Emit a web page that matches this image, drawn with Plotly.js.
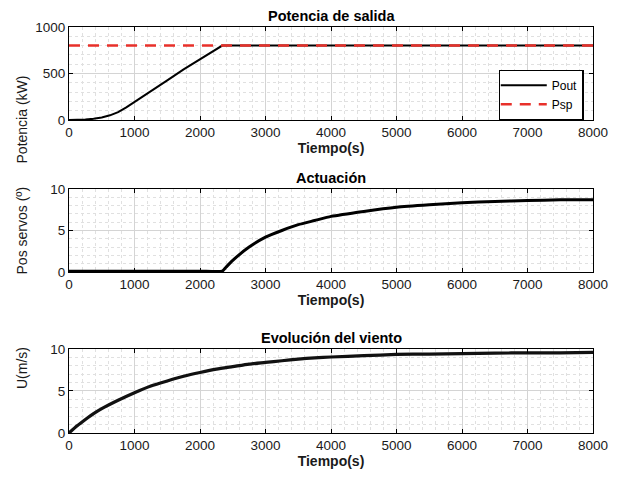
<!DOCTYPE html>
<html><head><meta charset="utf-8">
<script src="https://cdn.plot.ly/plotly-3.0.1.min.js"></script>
<style>html,body{margin:0;padding:0;background:#fff}#c{width:622px;height:477px}</style>
</head><body><div id="c"></div>
<script>
// Potencia de salida
const tPow = [0,125,250,375,500,625,750,875,1000,1125,1250,1500,1750,2000,2250,2340,3000,4000,5000,6000,7000,8000];
const pout = [0,1,4,12,26,50,85,135,192,248,305,425,545,655,760,800,800,800,800,800,800,800];
const tPsp = [0,8000];
const psp = [800,800];
// Actuación
const tServo = [0,1000,2000,2340,2400,2500,2750,3000,3250,3500,3750,4000,4500,5000,5500,6000,6500,7000,7500,8000];
const servo = [0.1,0.1,0.1,0.1,0.6,1.4,3.0,4.2,5.0,5.7,6.2,6.7,7.3,7.8,8.1,8.35,8.5,8.6,8.7,8.7];
// Evolución del viento
const tWind = [0,125,250,375,500,750,1000,1250,1500,1750,2000,2250,2500,2750,3000,3250,3500,3750,4000,4500,5000,5500,6000,6500,7000,7500,8000];
const wind = [0,0.85,1.6,2.3,2.9,3.9,4.8,5.6,6.2,6.75,7.2,7.6,7.9,8.2,8.4,8.6,8.8,8.95,9.05,9.2,9.35,9.4,9.45,9.5,9.55,9.55,9.6];

const titles = ["Potencia de salida","Actuación","Evolución del viento"];
const yTitles = ["Potencia (kW)","Pos servos (º)","U(m/s)"];
const xTitle = "Tiempo(s)";
const xTicks = [0,1000,2000,3000,4000,5000,6000,7000,8000];

const F = "Liberation Sans, Arial, sans-serif";
const TXT = "#1a1a1a";
const traces = [
  {x:tPow,y:pout,name:"Pout",mode:"lines",line:{color:"#000",width:2},xaxis:"x",yaxis:"y"},
  {x:tPsp,y:psp,name:"Psp",mode:"lines",line:{color:"#e8302a",width:2.5,dash:"11px,8px"},xaxis:"x",yaxis:"y"},
  {x:tServo,y:servo,name:"servo",mode:"lines",line:{color:"#000",width:3,shape:"spline",smoothing:0.5},xaxis:"x2",yaxis:"y2",showlegend:false},
  {x:tWind,y:wind,name:"wind",mode:"lines",line:{color:"#111",width:3.2,shape:"spline",smoothing:0.6},xaxis:"x3",yaxis:"y3",showlegend:false}
];

function xa(anchor){
  return {domain:[0,1],anchor:anchor,range:[0,8000],tickvals:xTicks,ticktext:xTicks.map(String),
    ticks:"inside",ticklen:4,tickcolor:"#000",showline:true,linecolor:"#000",linewidth:1,mirror:"allticks",
    showgrid:true,gridcolor:"#d4d4d4",gridwidth:1,zeroline:false,
    minor:{dtick:200,tick0:0,showgrid:true,gridcolor:"#e0e0e0",griddash:"dot",ticks:""},
    title:{text:xTitle,font:{family:F,size:14,color:TXT,weight:"bold"},standoff:3},
    tickfont:{family:F,size:13.5,color:TXT}};
}
function ya(anchor,dom,range,tv,mdt){
  return {domain:dom,anchor:anchor,range:range,tickvals:tv,ticks:"inside",ticklen:4,tickcolor:"#000",
    showline:true,linecolor:"#000",linewidth:1,mirror:"allticks",showgrid:true,gridcolor:"#d4d4d4",zeroline:false,
    minor:{dtick:mdt,tick0:0,showgrid:true,gridcolor:"#e0e0e0",griddash:"dot",ticks:""},
    tickfont:{family:F,size:13.5,color:TXT}};
}
const doms = [[0.771,1],[0.3966,0.601],[0,0.2069]];
const layout = {
  width:622,height:477,margin:{l:69,r:29,t:27,b:44},paper_bgcolor:"#fff",plot_bgcolor:"#fff",
  font:{family:F,color:TXT},
  xaxis:xa("y"),xaxis2:xa("y2"),xaxis3:xa("y3"),
  yaxis:ya("x",doms[0],[0,1000],[0,500,1000],100),
  yaxis2:ya("x2",doms[1],[0,10],[0,5,10],1),
  yaxis3:ya("x3",doms[2],[0,10],[0,5,10],1),
  legend:{x:0.982,xanchor:"right",y:0.895,yanchor:"top",bordercolor:"#000",borderwidth:1.2,bgcolor:"#fff",
    font:{family:F,size:12,color:"#000"},tracegroupgap:0,itemwidth:46,indentation:-4},
  annotations: titles.map((t,i)=>({text:"<b>"+t+"</b>",xref:"paper",yref:"paper",x:0.5,y:doms[i][1],
    yanchor:"bottom",yshift:1,showarrow:false,font:{family:F,size:14.5,color:"#000"}}))
   .concat(yTitles.map((t,i)=>({text:t,xref:"paper",yref:"paper",x:0,xanchor:"center",xshift:-47,y:(doms[i][0]+doms[i][1])/2,
    textangle:-90,showarrow:false,font:{family:F,size:14,color:TXT}})))
};
Plotly.newPlot("c",traces,layout,{staticPlot:true});
</script></body></html>
